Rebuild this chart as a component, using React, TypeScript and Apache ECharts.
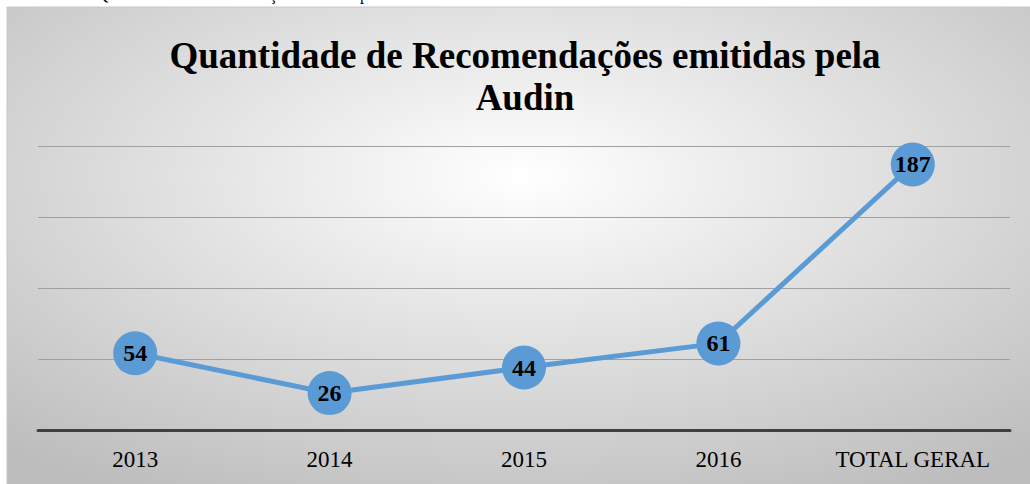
import React, { useEffect, useRef } from "react";
import * as echarts from "echarts";

const categories = ["2013", "2014", "2015", "2016", "TOTAL GERAL"];
const values = [54, 26, 44, 61, 187];
const titleText = "Quantidade de Recomendações emitidas pela\nAudin";
const captionText = "Quantidade de Recomendações emitidas pela Audin";

const SERIF = "Liberation Serif, Times New Roman, serif";

export default function App() {
  const ref = useRef<HTMLDivElement>(null);
  useEffect(() => {
    if (!ref.current) return;
    const chart = echarts.init(ref.current, undefined, { renderer: "svg" });
    chart.setOption({
      animation: false,
      backgroundColor: "#ffffff",
      graphic: [
        {
          type: "text",
          x: 97,
          y: 2,
          z: -20,
          style: {
            text: captionText,
            fontFamily: SERIF,
            fontSize: 16,
            verticalAlign: "bottom",
            fill: "#000",
          },
        },
        {
          type: "rect",
          shape: { x: 7, y: 7, width: 1030, height: 484 },
          z: -10,
          silent: true,
          style: {
            fill: new echarts.graphic.RadialGradient(0.5, 0.35, 0.75, [
              { offset: 0, color: "#ffffff" },
              { offset: 1, color: "#bdbdbd" },
            ]),
            stroke: "#c8c8c8",
            lineWidth: 1,
          },
        },
      ],
      title: {
        text: titleText,
        left: 520,
        top: 29,
        textAlign: "center",
        textStyle: {
          fontFamily: SERIF,
          fontWeight: "bold",
          fontSize: 37,
          lineHeight: 42,
          color: "#000",
        },
      },
      grid: { left: 38, right: 20, top: 146, bottom: 54 },
      xAxis: {
        type: "category",
        data: categories,
        boundaryGap: true,
        axisLine: { lineStyle: { color: "#404040", width: 3 } },
        axisTick: { show: false },
        axisLabel: {
          interval: 0,
          hideOverlap: false,
          margin: 18,
          fontFamily: SERIF,
          fontSize: 23,
          color: "#000",
        },
      },
      yAxis: {
        type: "value",
        min: 0,
        max: 200,
        interval: 50,
        axisLabel: { show: false },
        axisLine: { show: false },
        axisTick: { show: false },
        splitLine: { lineStyle: { color: "#a0a0a0", width: 1 } },
      },
      series: [
        {
          type: "line",
          data: values,
          symbol: "circle",
          symbolSize: 44,
          lineStyle: { color: "#5b9bd5", width: 5 },
          itemStyle: { color: "#5b9bd5" },
          label: {
            show: true,
            position: "inside",
            fontFamily: SERIF,
            fontWeight: "bold",
            fontSize: 24,
            color: "#000",
          },
        },
      ],
    });
    return () => chart.dispose();
  }, []);
  return (
    <div
      ref={ref}
      style={{ position: "absolute", left: 0, top: 0, width: 1030, height: 484 }}
    />
  );
}
